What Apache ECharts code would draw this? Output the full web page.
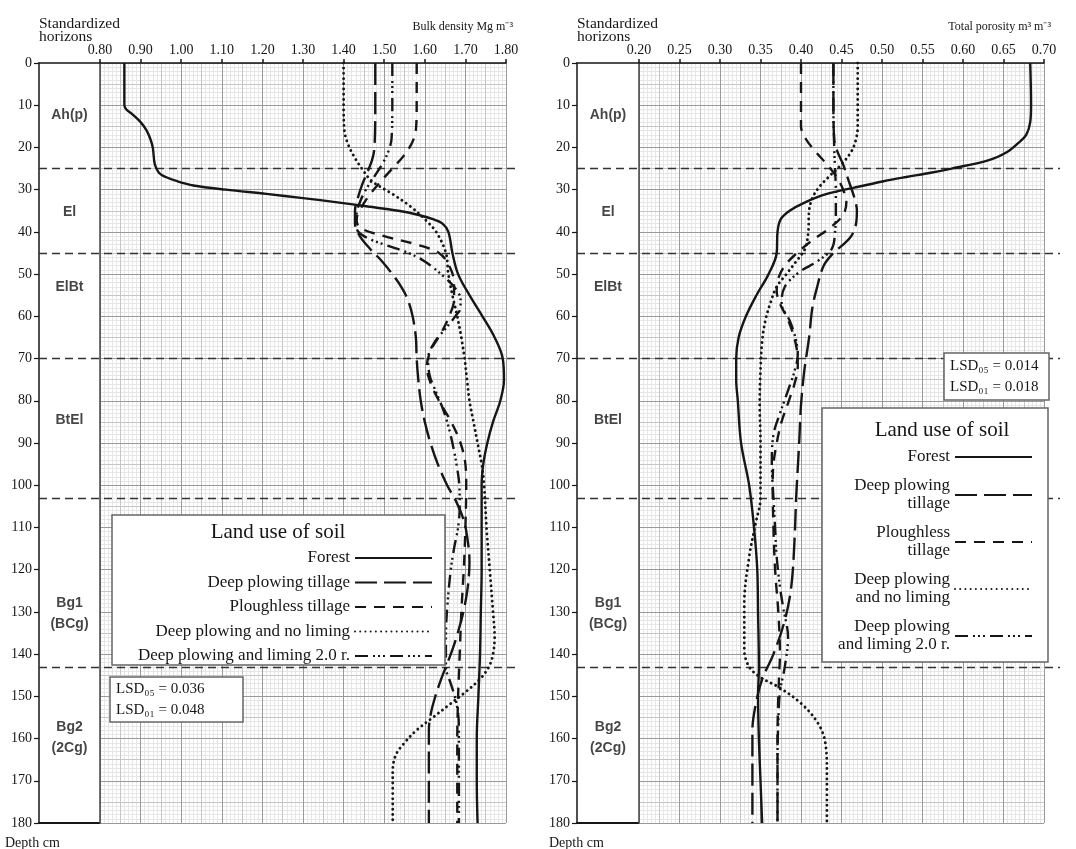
<!DOCTYPE html>
<html><head><meta charset="utf-8">
<script src="https://cdn.jsdelivr.net/npm/echarts@6/dist/echarts.min.js"></script>
<style>html,body{margin:0;padding:0;background:#fff}#c{width:1076px;height:849px}</style>
</head><body><div id="c"></div>
<script>
// ---------- data ----------
const seriesNames = ['Forest','Deep plowing tillage','Ploughless tillage','Deep plowing and no liming','Deep plowing and liming 2.0 r.'];
const horizonNames = ['Ah(p)','El','ElBt','BtEl','Bg1\n(BCg)','Bg2\n(2Cg)'];
const horizonLabelDepths = [12.3, 35.3, 53, 84.6, 130.4, 159.8];
const horizonBoundaries = [25, 45, 70, 103, 143];

// Bulk density (Mg m-3)
const bdForestDepth = [0,10,11,12,14,16,18,20,24,26,27,28,29,30,31,32,33,34,35,36,37,38,40,45,50,55,60,65,70,75,80,85,90,95,100,110,120,130,140,150,160,170,180];
const bdForest = [0.86,0.86,0.865,0.878,0.90,0.915,0.924,0.93,0.935,0.945,0.962,0.99,1.03,1.11,1.21,1.30,1.385,1.46,1.535,1.585,1.62,1.643,1.658,1.668,1.682,1.71,1.742,1.772,1.792,1.795,1.786,1.768,1.754,1.744,1.74,1.74,1.74,1.738,1.736,1.732,1.728,1.728,1.73];
const bdDeepDepth = [0,10,20,23,26,29,32,35,38,41,44,47,50,53,56,60,65,70,75,80,85,90,95,100,104,108,112,118,124,130,136,140,143,146,150,154,158,165,180];
const bdDeep = [1.478,1.478,1.476,1.47,1.458,1.445,1.435,1.428,1.428,1.44,1.465,1.495,1.52,1.542,1.558,1.57,1.578,1.58,1.584,1.59,1.60,1.614,1.632,1.655,1.678,1.695,1.704,1.71,1.706,1.695,1.678,1.664,1.652,1.64,1.626,1.615,1.61,1.61,1.61];
const bdPloughDepth = [0,10,16,19,22,25,28,31,34,37,39,41,43,45,48,52,56,60,64,68,72,76,80,85,90,95,100,110,120,130,140,145,150,160,180];
const bdPlough = [1.58,1.58,1.578,1.568,1.548,1.52,1.492,1.466,1.445,1.432,1.44,1.50,1.58,1.635,1.66,1.672,1.672,1.66,1.64,1.615,1.605,1.615,1.635,1.665,1.688,1.70,1.702,1.70,1.696,1.69,1.686,1.684,1.682,1.68,1.68];
const bdNoLimeDepth = [0,10,16,19,22,25,28,31,34,37,40,45,50,55,60,65,70,75,80,85,90,95,100,110,120,130,136,140,143,146,149,152,155,158,161,164,168,180];
const bdNoLime = [1.40,1.40,1.402,1.41,1.425,1.445,1.47,1.52,1.565,1.60,1.628,1.652,1.658,1.668,1.68,1.69,1.698,1.704,1.71,1.72,1.73,1.74,1.746,1.752,1.76,1.768,1.772,1.768,1.758,1.735,1.70,1.66,1.62,1.58,1.55,1.528,1.521,1.521];
const bdLimeDepth = [0,10,18,21,24,27,30,33,36,39,41,43,45,47,50,53,56,58,60,63,66,70,74,78,82,86,90,95,100,105,110,115,120,128,136,143,147,150,154,158,165,180];
const bdLime = [1.52,1.52,1.518,1.51,1.495,1.475,1.455,1.44,1.432,1.432,1.45,1.50,1.56,1.60,1.64,1.672,1.688,1.688,1.675,1.65,1.625,1.608,1.612,1.628,1.645,1.658,1.668,1.678,1.685,1.686,1.682,1.672,1.664,1.656,1.652,1.652,1.664,1.674,1.682,1.684,1.684,1.684];

// Total porosity (m3 m-3)
const tpForestDepth = [0,10,14,17,19,21,23,25,26,27,28,29.5,31,33,35,37,40,45,50,55,60,65,70,75,80,90,100,110,120,130,143,150,160,170,180];
const tpForest = [0.683,0.684,0.683,0.678,0.668,0.655,0.632,0.586,0.56,0.53,0.502,0.466,0.432,0.405,0.386,0.375,0.371,0.37,0.36,0.345,0.332,0.323,0.32,0.32,0.322,0.326,0.336,0.342,0.346,0.347,0.348,0.347,0.348,0.35,0.352];
const tpDeepDepth = [0,10,18,21,24,28,32,35,38,41,43,45,48,53,58,65,73,81,89,96,103,113,124,132,140,146,152,158,165,180];
const tpDeep = [0.44,0.44,0.441,0.445,0.452,0.459,0.466,0.469,0.468,0.462,0.452,0.44,0.428,0.42,0.414,0.41,0.404,0.40,0.398,0.396,0.394,0.392,0.388,0.38,0.366,0.352,0.344,0.34,0.34,0.34];
const tpPloughDepth = [0,10,15,18,21,24,27,30,33,36,39,42,45,48,51,54,57,60,64,68,72,76,80,85,90,95,100,110,120,130,140,145,150,160,180];
const tpPlough = [0.40,0.40,0.40,0.406,0.418,0.432,0.444,0.452,0.456,0.452,0.436,0.414,0.395,0.38,0.372,0.37,0.374,0.382,0.39,0.395,0.396,0.392,0.385,0.376,0.37,0.366,0.365,0.366,0.368,0.372,0.374,0.373,0.372,0.371,0.371];
const tpNoLimeDepth = [0,10,15,18,21,24,27,29.5,32,35,40,44,47,50,53,57,61,66,73,81,90,103,109,117,128,139,143,145.5,148,152,156.7,161,168,180];
const tpNoLime = [0.47,0.47,0.47,0.468,0.462,0.45,0.434,0.422,0.414,0.41,0.409,0.405,0.394,0.382,0.37,0.362,0.356,0.352,0.35,0.349,0.35,0.35,0.344,0.336,0.33,0.33,0.336,0.35,0.374,0.402,0.422,0.43,0.432,0.432];
const tpLimeDepth = [0,10,20,25,30,35,40,44,47,49.5,53,57,61,65,69,73,77,83,88,95,103,110,117,124,129,136,143,149,156,165,180];
const tpLime = [0.44,0.44,0.441,0.442,0.443,0.443,0.442,0.438,0.42,0.398,0.38,0.376,0.386,0.393,0.396,0.392,0.385,0.374,0.366,0.364,0.366,0.368,0.37,0.374,0.378,0.384,0.38,0.374,0.372,0.371,0.371];

const lsdLeft = ['0.036','0.048'];
const lsdRight = ['0.014','0.018'];

// ---------- style ----------
const SERIF = '"Liberation Serif","Times New Roman",serif';
const SANS = '"Liberation Sans",Arial,sans-serif';
const INK = '#161616';
const lineStyles = [
  {type:'solid', width:2.4, cap:'butt'},
  {type:[22,7], width:2.4, cap:'butt'},
  {type:[11,8], width:2.4, cap:'butt'},
  {type:[0.01,5.2], width:2.9, cap:'round'},
  {type:[13,5,2,3,2,3,2,5], width:2.4, cap:'butt'}
];
const TOP = 63, H = 760;

function pairs(vals, depths){ return vals.map((v,i)=>[v, depths[i]]); }

const panels = [
  {hx:39, px:100, pw:406, ox:39, ow:481, xmin:0.8, xmax:1.8, major:0.1, medium:0.05, minor:0.01,
   data:[[bdForest,bdForestDepth],[bdDeep,bdDeepDepth],[bdPlough,bdPloughDepth],[bdNoLime,bdNoLimeDepth],[bdLime,bdLimeDepth]]},
  {hx:577, px:639, pw:405, ox:577, ow:483, xmin:0.2, xmax:0.7, major:0.05, medium:0.025, minor:0.005,
   data:[[tpForest,tpForestDepth],[tpDeep,tpDeepDepth],[tpPlough,tpPloughDepth],[tpNoLime,tpNoLimeDepth],[tpLime,tpLimeDepth]]}
];

const grid=[], xAxis=[], yAxis=[], series=[];
panels.forEach((p)=>{
  const g0 = grid.length;
  grid.push({left:p.hx, top:TOP, width:p.px-p.hx, height:H});
  grid.push({left:p.px, top:TOP, width:p.pw, height:H});
  grid.push({left:p.ox, top:TOP, width:p.ow, height:H});
  const hxTop = xAxis.length;
  xAxis.push({type:'value', gridIndex:g0, min:0, max:1, position:'top', axisLine:{show:true,onZero:false,lineStyle:{color:INK,width:1.5}}, axisTick:{show:false}, axisLabel:{show:false}, splitLine:{show:false}});
  xAxis.push({type:'value', gridIndex:g0, min:0, max:1, position:'bottom', axisLine:{show:true,onZero:false,lineStyle:{color:INK,width:2}}, axisTick:{show:false}, axisLabel:{show:false}, splitLine:{show:false}});
  const hy = yAxis.length;
  yAxis.push({type:'value', gridIndex:g0, inverse:true, min:0, max:180, interval:10, position:'left',
    axisLine:{show:true,onZero:false,lineStyle:{color:INK,width:1.5}}, axisTick:{show:true,length:5,lineStyle:{color:INK,width:1.2}},
    axisLabel:{show:true, margin:7, fontFamily:SERIF, fontSize:14, color:INK}, splitLine:{show:false}});
  const mx = xAxis.length;
  xAxis.push({type:'value', gridIndex:g0+1, min:p.xmin, max:p.xmax, interval:p.major, position:'top', z:3,
    axisLine:{show:true,onZero:false,lineStyle:{color:INK,width:1.5}}, axisTick:{show:true,length:4,lineStyle:{color:INK,width:1.5}},
    axisLabel:{show:true, margin:6, fontFamily:SERIF, fontSize:14, color:INK, formatter:v=>v.toFixed(2)},
    splitLine:{show:true,lineStyle:{color:'#9a9a9a',width:1}}});
  xAxis.push({type:'value', gridIndex:g0+1, min:p.xmin, max:p.xmax, interval:p.minor, z:1,
    axisLine:{show:false}, axisTick:{show:false}, axisLabel:{show:false}, splitLine:{show:true,lineStyle:{color:'#e6e6e6',width:1}}});
  xAxis.push({type:'value', gridIndex:g0+1, min:p.xmin, max:p.xmax, interval:p.medium, z:2,
    axisLine:{show:false}, axisTick:{show:false}, axisLabel:{show:false}, splitLine:{show:true,lineStyle:{color:'#c6c6c6',width:1}}});
  const my = yAxis.length;
  yAxis.push({type:'value', gridIndex:g0+1, inverse:true, min:0, max:180, interval:10, position:'left', z:3,
    axisLine:{show:true,onZero:false,lineStyle:{color:'#444',width:1.5}}, axisTick:{show:false}, axisLabel:{show:false},
    splitLine:{show:true,lineStyle:{color:'#9a9a9a',width:1}}});
  yAxis.push({type:'value', gridIndex:g0+1, inverse:true, min:0, max:180, interval:1, z:1,
    axisLine:{show:false}, axisTick:{show:false}, axisLabel:{show:false}, splitLine:{show:true,lineStyle:{color:'#e6e6e6',width:1}}});
  yAxis.push({type:'value', gridIndex:g0+1, inverse:true, min:0, max:180, interval:5, z:2,
    axisLine:{show:false}, axisTick:{show:false}, axisLabel:{show:false}, splitLine:{show:true,lineStyle:{color:'#c6c6c6',width:1}}});
  const ox = xAxis.length;
  xAxis.push({type:'value', gridIndex:g0+2, min:0, max:1, show:false});
  const oy = yAxis.length;
  yAxis.push({type:'value', gridIndex:g0+2, inverse:true, min:0, max:180, show:false});

  series.push({type:'scatter', xAxisIndex:hxTop, yAxisIndex:hy, symbolSize:1, silent:true, z:5,
    itemStyle:{color:'rgba(0,0,0,0)'},
    data: horizonLabelDepths.map((d,i)=>({value:[0.5,d], name:horizonNames[i]})),
    label:{show:true, position:'inside', formatter:'{b}', fontFamily:SANS, fontWeight:'bold', fontSize:14, color:INK, lineHeight:21}});
  series.push({type:'line', xAxisIndex:ox, yAxisIndex:oy, data:[[0,0]], symbol:'none', silent:true, z:8,
    lineStyle:{width:0, opacity:0},
    markLine:{silent:true, symbol:['none','none'], label:{show:false}, animation:false,
      lineStyle:{type:[8,5], color:'#333', width:1.4},
      data: horizonBoundaries.map(d=>({yAxis:d}))}});
  p.data.forEach((pr,i)=>{
    series.push({name:seriesNames[i], type:'line', xAxisIndex:mx, yAxisIndex:my, data:pairs(pr[0],pr[1]),
      symbol:'none', showSymbol:false, smooth:0.35, z:10, silent:true,
      itemStyle:{color:INK},
      lineStyle:Object.assign({color:INK}, lineStyles[i])});
  });
});

const twoLine = {
  'Forest':'Forest',
  'Deep plowing tillage':'Deep plowing\ntillage',
  'Ploughless tillage':'Ploughless\ntillage',
  'Deep plowing and no liming':'Deep plowing\nand no liming',
  'Deep plowing and liming 2.0 r.':'Deep plowing\nand liming 2.0 r.'
};

function lsdText(x, y, sub, val){
  return {type:'text', x:x, y:y, z:60, style:{text:'LSD'+sub+' = '+val, font:'15px '+SERIF, fill:INK, verticalAlign:'middle'}};
}

const option = {
  animation:false,
  backgroundColor:'#fff',
  grid, xAxis, yAxis, series,
  legend:[
    {data:seriesNames, orient:'vertical', align:'right', right:1076-433, top:549, padding:0, itemWidth:77, itemHeight:14, itemGap:6.5,
     selectedMode:false, z:61, itemStyle:{opacity:0}, textStyle:{fontFamily:SERIF, fontSize:17, color:INK, lineHeight:18}},
    {data:seriesNames, orient:'vertical', align:'right', right:1076-1033, top:448, padding:0, itemWidth:77, itemHeight:14, itemGap:11,
     selectedMode:false, z:61, itemStyle:{opacity:0}, formatter:n=>twoLine[n], textStyle:{fontFamily:SERIF, fontSize:17, color:INK, lineHeight:18}}
  ],
  graphic:[
    {type:'text', x:39, y:24, z:60, style:{text:'Standardized', font:'15.5px '+SERIF, fill:INK, verticalAlign:'middle'}},
    {type:'text', x:39, y:37, z:60, style:{text:'horizons', font:'15.5px '+SERIF, fill:INK, verticalAlign:'middle'}},
    {type:'text', x:513, y:27, z:60, style:{text:'Bulk density Mg m\u207B\u00B3', font:'12px '+SERIF, fill:INK, align:'right', verticalAlign:'middle'}},
    {type:'text', x:5, y:843, z:60, style:{text:'Depth cm', font:'14px '+SERIF, fill:INK, verticalAlign:'middle'}},
    {type:'text', x:577, y:24, z:60, style:{text:'Standardized', font:'15.5px '+SERIF, fill:INK, verticalAlign:'middle'}},
    {type:'text', x:577, y:37, z:60, style:{text:'horizons', font:'15.5px '+SERIF, fill:INK, verticalAlign:'middle'}},
    {type:'text', x:1051, y:27, z:60, style:{text:'Total porosity m\u00B3 m\u207B\u00B3', font:'12px '+SERIF, fill:INK, align:'right', verticalAlign:'middle'}},
    {type:'text', x:549, y:843, z:60, style:{text:'Depth cm', font:'14px '+SERIF, fill:INK, verticalAlign:'middle'}},
    {type:'rect', z:59, shape:{x:112, y:515, width:333, height:150}, style:{fill:'#fff', stroke:'#666', lineWidth:1.5}},
    {type:'text', x:278, y:532, z:60, style:{text:'Land use of soil', font:'21px '+SERIF, fill:INK, align:'center', verticalAlign:'middle'}},
    {type:'rect', z:59, shape:{x:110, y:677, width:133, height:45}, style:{fill:'#fff', stroke:'#666', lineWidth:1.5}},
    lsdText(116, 689, '\u2080\u2085', lsdLeft[0]),
    lsdText(116, 710, '\u2080\u2081', lsdLeft[1]),
    {type:'rect', z:59, shape:{x:944, y:353, width:105, height:47}, style:{fill:'#fff', stroke:'#666', lineWidth:1.5}},
    lsdText(950, 366, '\u2080\u2085', lsdRight[0]),
    lsdText(950, 387, '\u2080\u2081', lsdRight[1]),
    {type:'rect', z:59, shape:{x:822, y:408, width:226, height:254}, style:{fill:'#fff', stroke:'#666', lineWidth:1.5}},
    {type:'text', x:942, y:430, z:60, style:{text:'Land use of soil', font:'21px '+SERIF, fill:INK, align:'center', verticalAlign:'middle'}}
  ]
};

const chart = echarts.init(document.getElementById('c'), null, {renderer:'canvas'});
chart.setOption(option);
</script>
</body></html>
